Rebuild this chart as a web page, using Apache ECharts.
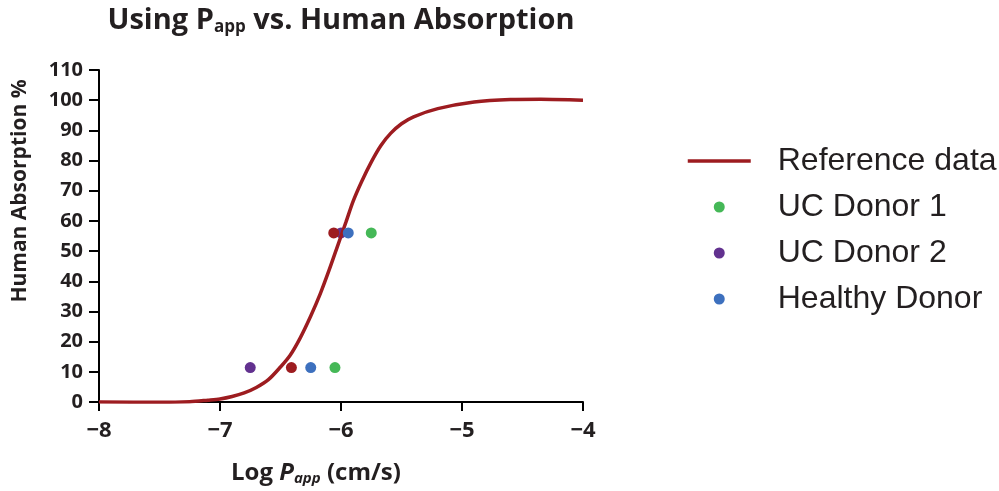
<!DOCTYPE html>
<html>
<head>
<meta charset="utf-8">
<script src="https://cdn.jsdelivr.net/npm/echarts@6/dist/echarts.min.js"></script>
<style>
html,body{margin:0;padding:0;background:#fff;}
#chart{width:999px;height:491px;}
</style>
</head>
<body>
<div id="chart"></div>
<script>
// Reference sigmoid curve
var curveX = [-8, -7.5, -7.25, -7.1, -7.0, -6.9, -6.8, -6.7, -6.6, -6.5, -6.42, -6.34, -6.25, -6.17, -6.1, -6.03, -5.96, -5.9, -5.83, -5.75, -5.67, -5.59, -5.5, -5.4, -5.2, -4.9, -4.6, -4.35, -4];
var curveY = [0, -0.1, 0.1, 0.6, 1.0, 1.8, 3.0, 4.8, 7.4, 11.6, 15.5, 21, 28.5, 36, 43.5, 51.5, 59.5, 66.5, 73, 79.5, 85, 89, 92.2, 94.5, 97.2, 99.4, 100.2, 100.3, 100];

// Reference compounds (dark red points)
var refX = [-6.06, -6.41];
var refY = [56, 11.4];
// UC Donor 1 (green)
var uc1X = [-5.75, -6.05];
var uc1Y = [56, 11.4];
// UC Donor 2 (purple)
var uc2X = [-6.0, -6.75];
var uc2Y = [56, 11.4];
// Healthy Donor (blue)
var hdX = [-5.94, -6.25];
var hdY = [56, 11.4];

var xTicks = [-8, -7, -6, -5, -4];
var yTicks = [0, 10, 20, 30, 40, 50, 60, 70, 80, 90, 100, 110];

function zip(xs, ys) { return xs.map(function (x, i) { return [x, ys[i]]; }); }

var RED = '#9D1C20', GREEN = '#45B857', PURPLE = '#62318F', BLUE = '#3D70BE';
var BOLD = 'Open Sans';
var INK = '#231F20';

var chart = echarts.init(document.getElementById('chart'));
chart.setOption({
  animation: false,
  backgroundColor: '#fff',
  grid: { left: 99, right: 416, top: 70, bottom: 89, containLabel: false },
  graphic: [{
    type: 'text',
    style: {
      x: 341, y: 21, align: 'center', verticalAlign: 'middle',
      text: '{a|Using P}{s|app}{a| vs. Human Absorption}',
      rich: {
        a: { fontFamily: BOLD, fontWeight: 'bold', fontSize: 29, fill: INK },
        s: { fontFamily: BOLD, fontWeight: 'bold', fontSize: 17, fill: INK, padding: [12, 0, 0, 0] }
      }
    }
  }],
  legend: {
    orient: 'vertical', left: 681, top: 138,
    itemWidth: 63, itemHeight: 11, itemGap: 10,
    data: [
      { name: 'Reference data', itemStyle: { opacity: 0 }, lineStyle: { width: 3.5 } },
      'UC Donor 1', 'UC Donor 2', 'Healthy Donor'
    ],
    textStyle: { fontFamily: 'Liberation Sans', fontSize: 32, color: INK, lineHeight: 36, padding: [0, 0, 0, 22] }
  },
  xAxis: {
    type: 'value', min: -8, max: -4, interval: 1,
    name: '{a|Log }{i|P}{s|app}{a| (cm/s)}',
    nameLocation: 'middle', nameGap: 58,
    nameTextStyle: {
      padding: [0, 50, 0, 0],
      rich: {
        a: { fontFamily: BOLD, fontWeight: 'bold', fontSize: 24, color: INK },
        i: { fontFamily: BOLD, fontWeight: 'bold', fontStyle: 'italic', fontSize: 24, color: INK },
        s: { fontFamily: BOLD, fontWeight: 'bold', fontStyle: 'italic', fontSize: 15, color: INK, padding: [11, 0, 0, 0] }
      }
    },
    axisLine: { onZero: false, lineStyle: { color: '#000', width: 2 } },
    axisTick: { length: 9, lineStyle: { color: '#000', width: 2 } },
    axisLabel: {
      margin: 18, fontFamily: BOLD, fontWeight: 'bold', fontSize: 22, color: INK,
      formatter: function (v) { return String(v).replace('-', '\u2212'); }
    },
    splitLine: { show: false }
  },
  yAxis: {
    type: 'value', min: 0, max: 110, interval: 10,
    name: 'Human Absorption %',
    nameLocation: 'middle', nameGap: 68, nameRotate: 90,
    nameTextStyle: { fontFamily: BOLD, fontWeight: 'bold', fontSize: 21, color: INK, padding: [0, 0, 0, 90] },
    axisLine: { lineStyle: { color: '#000', width: 2 } },
    axisTick: { length: 10, lineStyle: { color: '#000', width: 2 } },
    axisLabel: { margin: 16, fontFamily: BOLD, fontWeight: 'bold', fontSize: 20, color: INK },
    splitLine: { show: false }
  },
  series: [
    { name: 'UC Donor 2', type: 'scatter', symbolSize: 11, itemStyle: { color: PURPLE, opacity: 1 }, data: zip(uc2X, uc2Y), z: 2 },
    { name: 'UC Donor 1', type: 'scatter', symbolSize: 11, itemStyle: { color: GREEN, opacity: 1 }, data: zip(uc1X, uc1Y), z: 2 },
    { name: 'Healthy Donor', type: 'scatter', symbolSize: 11, itemStyle: { color: BLUE, opacity: 1 }, data: zip(hdX, hdY), z: 3 },
    { name: 'Reference data', type: 'line', smooth: 0.3, symbol: 'none', lineStyle: { color: RED, width: 3.5 }, itemStyle: { color: RED }, data: zip(curveX, curveY), z: 3 },
    { name: 'Reference compounds', type: 'scatter', symbolSize: 11, itemStyle: { color: RED, opacity: 1 }, data: zip(refX, refY), z: 4 }
  ]
});
</script>
</body>
</html>
